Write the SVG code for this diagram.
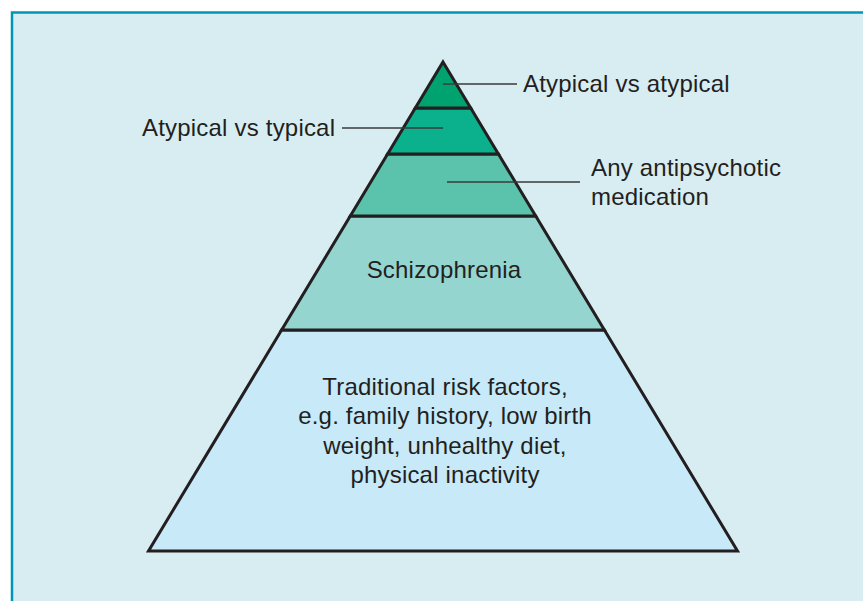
<svg xmlns="http://www.w3.org/2000/svg" width="863" height="601" viewBox="0 0 863 601">
<style>
.t{font-family:"Liberation Sans",Arial,sans-serif;font-size:24px;letter-spacing:0.2px;fill:#231f20}
.c{text-anchor:middle}
.layer{stroke:#231f20;stroke-width:3;stroke-linejoin:miter}
.lead{stroke:#3a3a3a;stroke-width:1.6;fill:none}
</style>
<rect width="863" height="601" fill="#ffffff"/>
<rect x="12" y="12.5" width="900" height="700" fill="#d8edf2" stroke="#0096b6" stroke-width="2.5"/>
<g id="layer-traditional">
<polygon class="layer" points="281.6,330 604.4,330 737.5,551 148.5,551" fill="#c7e9f8"/>
<text class="t c" x="445" y="395">Traditional risk factors,</text>
<text class="t c" x="445" y="424">e.g. family history, low birth</text>
<text class="t c" x="445" y="454">weight, unhealthy diet,</text>
<text class="t c" x="445" y="483">physical inactivity</text>
</g>
<g id="layer-schizophrenia">
<polygon class="layer" points="350.3,216 535.7,216 604.4,330 281.6,330" fill="#94d5d0"/>
<text class="t c" x="444" y="278">Schizophrenia</text>
</g>
<g id="layer-any">
<polygon class="layer" points="387.6,154 498.4,154 535.7,216 350.3,216" fill="#5bc3ab"/>
</g>
<g id="layer-typical">
<polygon class="layer" points="415.3,108 470.7,108 498.4,154 387.6,154" fill="#0bb08c"/>
</g>
<g id="layer-atypical">
<polygon class="layer" points="443,62 470.7,108 415.3,108" fill="#00a36f"/>
</g>
<g id="connectors">
<line class="lead" x1="443" y1="84" x2="517" y2="84"/>
<line class="lead" x1="342" y1="128" x2="443" y2="128"/>
<line class="lead" x1="447" y1="182" x2="580" y2="182"/>
</g>
<g id="labels">
<text class="t" x="523" y="92">Atypical vs atypical</text>
<text class="t" x="142" y="136">Atypical vs typical</text>
<text class="t" x="591" y="176">Any antipsychotic</text>
<text class="t" x="591" y="205">medication</text>
</g>
</svg>
